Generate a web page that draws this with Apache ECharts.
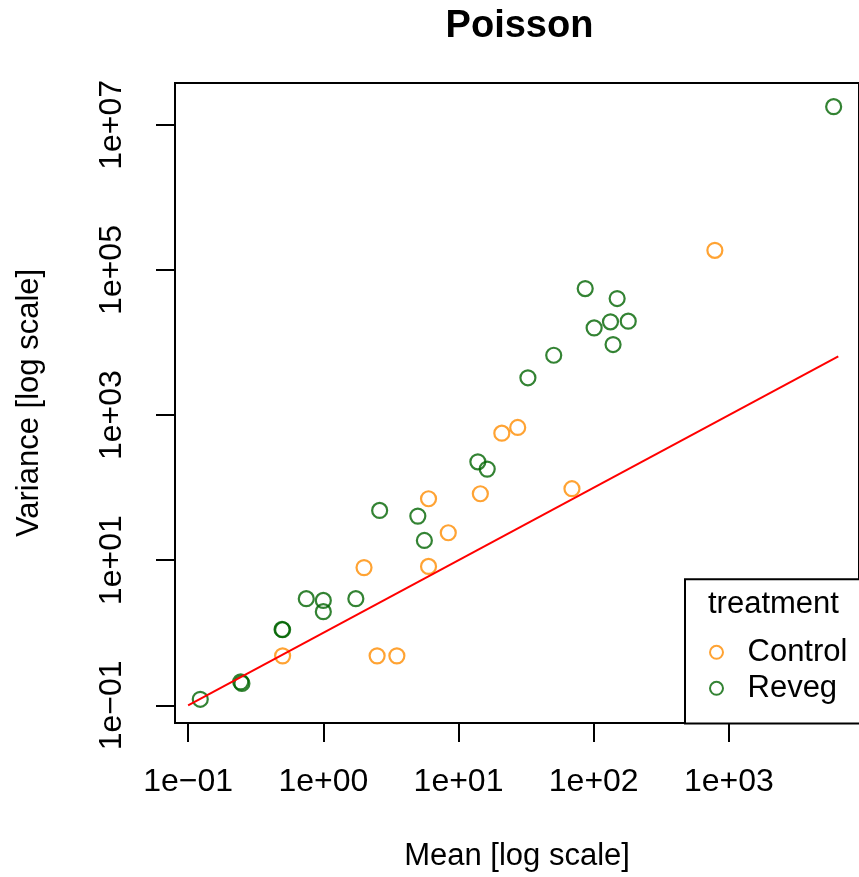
<!DOCTYPE html>
<html>
<head>
<meta charset="utf-8">
<script src="https://cdn.jsdelivr.net/npm/echarts@6/dist/echarts.min.js"></script>
<style>
html,body{margin:0;padding:0;background:#fff;}
#chart{width:859px;height:877px;}
</style>
</head>
<body>
<div id="chart"></div>
<script>
// ---- data ----
const controlMean = [0.5, 2.5, 3.5, 2.0, 6.0, 8.4, 6.0, 14.5, 69, 20.9, 27.4, 787];
const controlVar  = [0.48, 0.48, 0.48, 7.9, 8.2, 23.9, 70.3, 82.4, 96.6, 563, 675, 186700];
const revegMean = [0.123, 0.245, 0.25, 0.495, 0.5, 0.748, 1.0, 1.0, 1.74, 2.61, 5.0, 5.59, 13.9, 16.3, 32.6, 50.6, 86.5, 149, 100.7, 133, 180, 139, 5950];
const revegVar  = [0.121, 0.21, 0.2, 1.11, 1.1, 2.95, 2.79, 1.95, 2.95, 48.5, 40.5, 18.7, 227, 180, 3266, 6683, 55400, 40400, 15900, 19300, 19700, 9380, 1.78e7];
const refLineMean = [0.1, 6440];
const refLineVar  = [0.1, 6440];
const xTickValues = [0.1, 1, 10, 100, 1000];
const yTickValues = [0.1, 10, 1000, 100000, 10000000];
const seriesNames = ['Control', 'Reveg'];
const legendTitle = 'treatment';
const chartTitle = 'Poisson';
const xName = 'Mean [log scale]';
const yName = 'Variance [log scale]';

// ---- styles ----
const FONT = '"Liberation Sans", Arial, Helvetica, sans-serif';
const ORANGE = '#FF8C00';
const GREEN = '#006400';

function fmt(v) {
  const e = Math.round(Math.log10(v));
  const sign = e < 0 ? '\u2212' : '+';
  const a = Math.abs(e);
  return '1e' + sign + (a < 10 ? '0' + a : '' + a);
}
function pairs(xs, ys) { return xs.map((x, i) => [x, ys[i]]); }

const chart = echarts.init(document.getElementById('chart'), null, {renderer: 'canvas'});
const option = {
  animation: false,
  backgroundColor: '#ffffff',
  title: {
    text: chartTitle, left: 519.5, top: 8, textAlign: 'center', padding: 0,
    textStyle: {fontFamily: FONT, fontWeight: 'bold', fontSize: 38, color: '#000'}
  },
  grid: {
    left: 175, right: -4.5, top: 83, bottom: 153.5,
    show: true, borderColor: '#000', borderWidth: 2, backgroundColor: 'transparent'
  },
  xAxis: {
    type: 'log', logBase: 10,
    min: Math.pow(10, -1.097), max: Math.pow(10, 3.962),
    axisLine: {show: false},
    splitLine: {show: false},
    axisTick: {show: true, customValues: xTickValues, length: 19, lineStyle: {color: '#000', width: 2}},
    axisLabel: {customValues: xTickValues, formatter: fmt, margin: 43, fontSize: 32, color: '#000', fontFamily: FONT},
    name: xName, nameLocation: 'middle', nameGap: 118,
    nameTextStyle: {fontSize: 31, color: '#000', fontFamily: FONT}
  },
  yAxis: {
    type: 'log', logBase: 10,
    min: Math.pow(10, -1.244), max: Math.pow(10, 7.577),
    axisLine: {show: false},
    splitLine: {show: false},
    axisTick: {show: true, customValues: yTickValues, length: 19, lineStyle: {color: '#000', width: 2}},
    axisLabel: {customValues: yTickValues, formatter: fmt, rotate: 90, margin: 47, fontSize: 32, color: '#000', fontFamily: FONT},
    name: yName, nameLocation: 'middle', nameGap: 130,
    nameTextStyle: {fontSize: 31, color: '#000', fontFamily: FONT}
  },
  legend: {
    left: 709, top: 634.3, orient: 'vertical',
    itemWidth: 52, itemHeight: 13, itemGap: 0, padding: 0,
    symbolKeepAspect: true, z: 10,
    textStyle: {fontSize: 31, lineHeight: 36, fontFamily: FONT, color: '#000'},
    data: [
      {name: seriesNames[0], icon: 'circle', itemStyle: {color: 'transparent', borderColor: ORANGE, borderWidth: 2}},
      {name: seriesNames[1], icon: 'circle', itemStyle: {color: 'transparent', borderColor: GREEN, borderWidth: 2}}
    ]
  },
  graphic: [
    {type: 'rect', z: 5, shape: {x: 685, y: 579.3, width: 200, height: 144.2},
     style: {fill: '#fff', stroke: '#000', lineWidth: 2}},
    {type: 'text', z: 6, x: 708, y: 604,
     style: {text: legendTitle, fill: '#000', font: '31px ' + FONT, textAlign: 'left', textVerticalAlign: 'middle', verticalAlign: 'middle'}}
  ],
  series: [
    {name: seriesNames[0], type: 'scatter', symbol: 'circle', symbolSize: 15,
     itemStyle: {color: 'transparent', borderColor: ORANGE, borderWidth: 2.2},
     data: pairs(controlMean, controlVar)},
    {name: seriesNames[1], type: 'scatter', symbol: 'circle', symbolSize: 15,
     itemStyle: {color: 'transparent', borderColor: GREEN, borderWidth: 2.2},
     data: pairs(revegMean, revegVar)},
    {name: 'y = x', type: 'line', showSymbol: false, silent: true, z: 3,
     lineStyle: {color: '#FF0000', width: 2},
     data: pairs(refLineMean, refLineVar)}
  ]
};
chart.setOption(option);
</script>
</body>
</html>
